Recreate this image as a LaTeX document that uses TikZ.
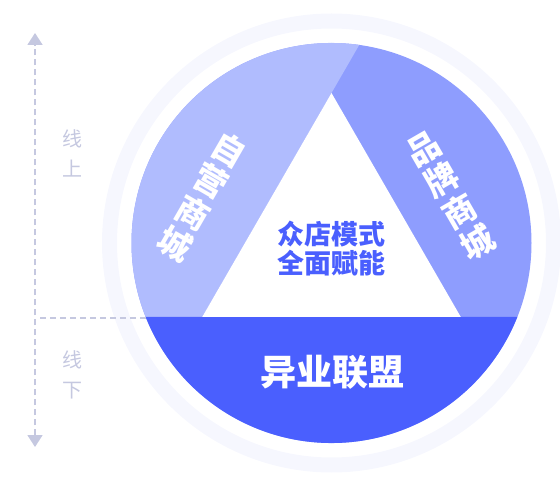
\documentclass[tikz,border=0pt]{standalone}
\usepackage{fontspec}
\newfontfamily\cjk{Noto Sans CJK SC}
\usetikzlibrary{arrows.meta,calc}
\definecolor{ringc}{HTML}{F6F7FE}
\definecolor{leftc}{HTML}{B0BCFE}
\definecolor{rightc}{HTML}{8E9DFE}
\definecolor{botc}{HTML}{4A5FFE}
\definecolor{guide}{HTML}{C5C8E0}
\begin{document}
\begin{tikzpicture}[x=1pt,y=1pt,
  bandtext/.style={text=white,align=center,font=\cjk\bfseries\fontsize{33}{36}\selectfont,inner sep=0pt},
  guidetext/.style={text=guide,align=center,font=\cjk\fontsize{20}{30}\selectfont,inner sep=0pt},
  guideline/.style={draw=guide,line width=1.8pt,dash pattern=on 6pt off 4pt}]
\useasboundingbox (0,0) rectangle (560,480);
\coordinate (C) at (331.5,237);
% outer ring
\draw[ringc,line width=15pt] (C) circle (222);
% base circle (right sector colour)
\fill[rightc] (C) circle (200);
% left sector
\fill[leftc] ($(C)+(-185.8,-74)$) -- ($(C)+(-129.3,-74)$) -- ($(C)+(27.75,198.07)$)
  arc[start angle=82.02,end angle=201.72,radius=200] -- cycle;
% bottom segment
\fill[botc] ($(C)+(-185.8,-74)$) arc[start angle=201.72,end angle=338.28,radius=200] -- cycle;
% white triangle
\fill[white] ($(C)+(-129.3,-74)$) -- ($(C)+(129.3,-74)$) -- ($(C)+(0,150)$) -- cycle;
% texts
\node[bandtext,rotate=-30] (zy) at (202,283) {自\\营\\商\\城};
\node[bandtext,rotate=30] (pp) at (451,284) {品\\牌\\商\\城};
\node[text=botc,align=center,font=\cjk\bfseries\fontsize{27}{29}\selectfont,inner sep=0pt] (mid) at (331,231) {众店模式\\全面赋能};
\node[text=white,font=\cjk\bfseries\fontsize{36}{40}\selectfont,inner sep=0pt] (yy) at (332,108) {异业联盟};
% guide
\node[guidetext] (up) at (72,327) {线\\上};
\node[guidetext] (down) at (72,105) {线\\下};
\coordinate (atop) at (35,447);
\coordinate (abot) at (35,33);
\coordinate (hl) at (35,162);
\coordinate (hr) at (145.7,162);
\draw[guideline,{Triangle[width=15pt,length=12pt]}-{Triangle[width=15pt,length=12pt]}] (abot) -- (atop);
\draw[guideline] ($(hl)+(5,0)$) -- (hr);
\end{tikzpicture}
\end{document}
